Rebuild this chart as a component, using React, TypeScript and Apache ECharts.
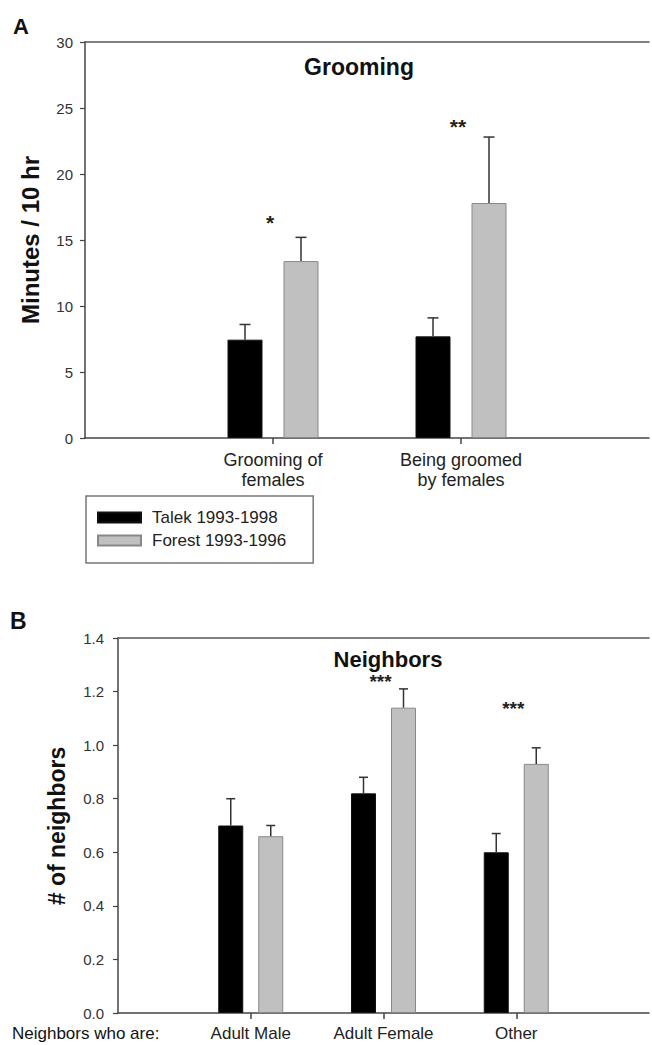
import React, { useEffect, useRef } from "react";
import * as echarts from "echarts";

// ---------- Data ----------
const seriesNames = ["Talek 1993-1998", "Forest 1993-1996"];

// Panel A: Grooming (minutes / 10 hr)
const groomCategories = ["", "Grooming of\nfemales", "Being groomed\nby females", ""];
const groomTalek = [null, 7.45, 7.7, null];
const groomTalekUpper = [null, 8.6, 9.1, null];
const groomForest = [null, 13.4, 17.8, null];
const groomForestUpper = [null, 15.2, 22.8, null];
const groomStars = ["", "*", "**", ""];
const groomStarLevel = [null, 16.3, 23.6, null];
const groomYMax = 30;
const groomYStep = 5;

// Panel B: Neighbors (# of neighbors)
const neighCategories = ["", "Adult Male", "Adult Female", "Other", ""];
const neighTalek = [null, 0.7, 0.82, 0.6, null];
const neighTalekUpper = [null, 0.8, 0.88, 0.67, null];
const neighForest = [null, 0.66, 1.14, 0.93, null];
const neighForestUpper = [null, 0.7, 1.21, 0.99, null];
const neighStars = ["", "", "***", "***", ""];
const neighStarLevel = [null, null, 1.237, 1.135, null];
const neighYMax = 1.4;
const neighYStep = 0.2;

// ---------- Styles ----------
const FONT = "'Liberation Sans', Arial, Helvetica, sans-serif";
const BLACK = "#000000";
const GRAY = "#c0c0c0";
const AXIS = "#444444";

const A_BAR_W = 35;
const A_GAP = 21;
const B_BAR_W = 25;
const B_GAP = 15;

function errorSeries(
  axisIdx: number,
  means: (number | null)[],
  uppers: (number | null)[],
  sign: number,
  barW: number,
  gap: number,
  cap: number
) {
  const data: number[][] = [];
  means.forEach((m, i) => {
    if (m != null && uppers[i] != null) data.push([i, m, uppers[i] as number]);
  });
  return {
    type: "custom",
    xAxisIndex: axisIdx,
    yAxisIndex: axisIdx,
    silent: true,
    z: 5,
    encode: { x: 0, y: [1, 2] },
    data,
    renderItem: (_params: any, api: any) => {
      const base = api.coord([api.value(0), api.value(1)]);
      const top = api.coord([api.value(0), api.value(2)]);
      const x = base[0] + (sign * (barW + gap)) / 2;
      return {
        type: "group",
        children: [
          {
            type: "line",
            shape: { x1: x, y1: base[1], x2: x, y2: top[1] },
            style: { stroke: "#333", lineWidth: 1.5 },
          },
          {
            type: "line",
            shape: { x1: x - cap / 2, y1: top[1], x2: x + cap / 2, y2: top[1] },
            style: { stroke: "#333", lineWidth: 1.5 },
          },
        ],
      };
    },
  };
}

function starSeries(axisIdx: number, labels: string[], levels: (number | null)[], fontSize: number) {
  const data: number[][] = [];
  const texts: string[] = [];
  levels.forEach((v, i) => {
    if (v != null && labels[i]) {
      data.push([i, v]);
      texts.push(labels[i]);
    }
  });
  return {
    type: "custom",
    xAxisIndex: axisIdx,
    yAxisIndex: axisIdx,
    silent: true,
    z: 6,
    encode: { x: 0, y: 1 },
    data,
    renderItem: (params: any, api: any) => {
      const p = api.coord([api.value(0), api.value(1)]);
      return {
        type: "text",
        x: p[0] - 3,
        y: p[1],
        style: {
          text: texts[params.dataIndex],
          fontSize,
          fontWeight: "bold",
          fontFamily: FONT,
          fill: "#222",
          align: "center",
          verticalAlign: "middle",
        },
      };
    },
  };
}

function makeXAxis(gridIndex: number, cats: string[], margin: number, fontSize: number) {
  return {
    type: "category",
    gridIndex,
    data: cats,
    boundaryGap: false,
    axisLine: { show: true, lineStyle: { color: AXIS, width: 1.5 } },
    axisTick: {
      show: true,
      length: 6,
      interval: (i: number) => i > 0 && i < cats.length - 1,
      lineStyle: { color: AXIS, width: 1.5 },
    },
    axisLabel: {
      interval: 0,
      margin,
      fontSize,
      lineHeight: 20,
      fontFamily: FONT,
      color: "#222",
    },
    splitLine: { show: false },
  };
}

// Top frame line of each panel
function makeTopAxis(gridIndex: number, cats: string[]) {
  return {
    type: "category",
    gridIndex,
    position: "top",
    data: cats,
    boundaryGap: false,
    axisLine: { show: true, lineStyle: { color: "#555", width: 1.6 } },
    axisTick: { show: false },
    axisLabel: { show: false },
    splitLine: { show: false },
  };
}

function makeYAxis(gridIndex: number, max: number, step: number, decimals: number, margin: number) {
  return {
    type: "value",
    gridIndex,
    min: 0,
    max,
    interval: step,
    axisLine: { show: true, lineStyle: { color: AXIS, width: 1.5 } },
    axisTick: { show: true, length: 5, lineStyle: { color: AXIS, width: 1.2 } },
    axisLabel: {
      margin,
      fontSize: 15,
      fontFamily: FONT,
      color: "#333",
      formatter: (v: number) => v.toFixed(decimals),
    },
    splitLine: { show: false },
  };
}

function textEl(text: string, x: number, y: number, size: number, bold: boolean, extra: any = {}) {
  return {
    type: "text",
    x,
    y,
    style: {
      text,
      fontSize: size,
      fontWeight: bold ? "bold" : "normal",
      fontFamily: FONT,
      fill: "#111",
      align: extra.align || "left",
      verticalAlign: "middle",
    },
  };
}

export default function App() {
  const ref = useRef<HTMLDivElement>(null);

  useEffect(() => {
    document.body.style.margin = "0";
    if (!ref.current) return;
    const chart = echarts.init(ref.current, undefined, { renderer: "svg" });

    const option: any = {
      animation: false,
      backgroundColor: "#ffffff",
      grid: [
        { left: 85, top: 42, right: -2, height: 396, show: false },
        { left: 118, top: 638, right: -2, height: 375, show: false },
      ],
      xAxis: [
        makeXAxis(0, groomCategories, 12, 18),
        makeXAxis(1, neighCategories, 10, 17),
        makeTopAxis(0, groomCategories),
        makeTopAxis(1, neighCategories),
      ],
      yAxis: [makeYAxis(0, groomYMax, groomYStep, 0, 12), makeYAxis(1, neighYMax, neighYStep, 1, 14)],
      legend: {
        data: seriesNames,
        orient: "vertical",
        left: 86,
        top: 496,
        itemWidth: 43,
        itemHeight: 10,
        itemGap: 6,
        padding: [13, 27, 14, 11],
        borderColor: "#777",
        borderWidth: 1.5,
        icon: "rect",
        selectedMode: false,
        textStyle: { fontSize: 17, fontFamily: FONT, color: "#222", lineHeight: 17, padding: [0, 0, 0, 6] },
      },
      graphic: [
        textEl("A", 13, 26, 22, true),
        textEl("B", 10, 621, 23, true),
        textEl("Grooming", 359, 67, 23, true, { align: "center" }),
        textEl("Neighbors", 388, 659, 22, true, { align: "center" }),
        {
          type: "text",
          x: 30,
          y: 240,
          rotation: Math.PI / 2,
          style: {
            text: "Minutes / 10 hr",
            fontSize: 24,
            fontWeight: "bold",
            fontFamily: FONT,
            fill: "#111",
            align: "center",
            verticalAlign: "middle",
          },
        },
        {
          type: "text",
          x: 57,
          y: 826,
          rotation: Math.PI / 2,
          style: {
            text: "# of neighbors",
            fontSize: 23,
            fontWeight: "bold",
            fontFamily: FONT,
            fill: "#111",
            align: "center",
            verticalAlign: "middle",
          },
        },
        textEl("Neighbors who are:", 12, 1033, 17, false),
      ],
      series: [
        {
          name: seriesNames[0],
          type: "bar",
          xAxisIndex: 0,
          yAxisIndex: 0,
          data: groomTalek,
          barWidth: A_BAR_W,
          barGap: `${Math.round((A_GAP / A_BAR_W) * 100)}%`,
          itemStyle: { color: BLACK, borderColor: "#111", borderWidth: 1 },
        },
        {
          name: seriesNames[1],
          type: "bar",
          xAxisIndex: 0,
          yAxisIndex: 0,
          data: groomForest,
          barWidth: A_BAR_W,
          barGap: `${Math.round((A_GAP / A_BAR_W) * 100)}%`,
          itemStyle: { color: GRAY, borderColor: "#888", borderWidth: 1 },
        },
        {
          name: seriesNames[0],
          type: "bar",
          xAxisIndex: 1,
          yAxisIndex: 1,
          data: neighTalek,
          barWidth: B_BAR_W,
          barGap: `${Math.round((B_GAP / B_BAR_W) * 100)}%`,
          itemStyle: { color: BLACK, borderColor: "#111", borderWidth: 1 },
        },
        {
          name: seriesNames[1],
          type: "bar",
          xAxisIndex: 1,
          yAxisIndex: 1,
          data: neighForest,
          barWidth: B_BAR_W,
          barGap: `${Math.round((B_GAP / B_BAR_W) * 100)}%`,
          itemStyle: { color: GRAY, borderColor: "#888", borderWidth: 1 },
        },
        errorSeries(0, groomTalek, groomTalekUpper, -1, A_BAR_W, A_GAP, 11),
        errorSeries(0, groomForest, groomForestUpper, 1, A_BAR_W, A_GAP, 11),
        errorSeries(1, neighTalek, neighTalekUpper, -1, B_BAR_W, B_GAP, 9),
        errorSeries(1, neighForest, neighForestUpper, 1, B_BAR_W, B_GAP, 9),
        starSeries(0, groomStars, groomStarLevel, 21),
        starSeries(1, neighStars, neighStarLevel, 19),
      ],
    };

    chart.setOption(option);
    return () => {
      chart.dispose();
    };
  }, []);

  return <div ref={ref} style={{ width: 652, height: 1045 }} />;
}
